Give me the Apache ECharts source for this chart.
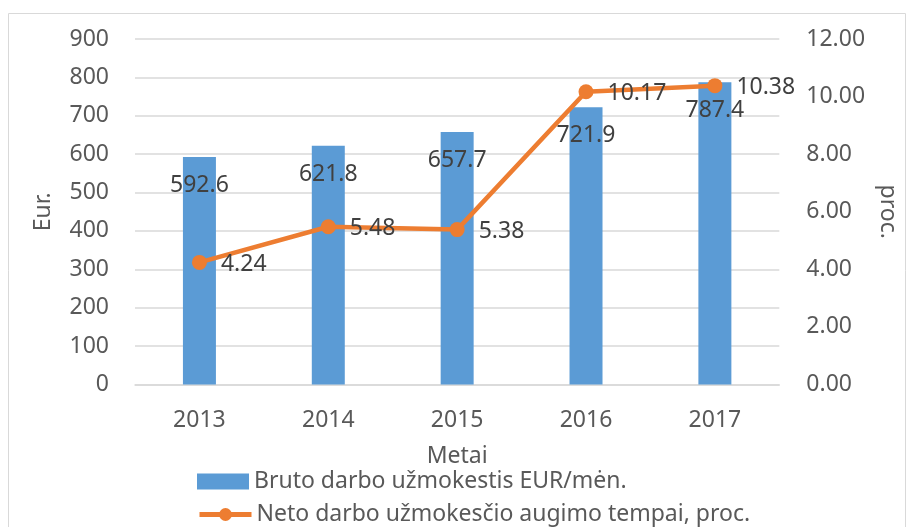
<!DOCTYPE html>
<html><head><meta charset="utf-8">
<script src="https://cdn.jsdelivr.net/npm/echarts@6/dist/echarts.min.js"></script>
<style>html,body{margin:0;padding:0;background:#fff}#c{width:907px;height:527px}</style>
</head><body><div id="c"></div>
<script>
const categories = ['2013', '2014', '2015', '2016', '2017'];
const bruto = [592.6, 621.8, 657.7, 721.9, 787.4];
const neto = [4.24, 5.48, 5.38, 10.17, 10.38];
const leftTicks = { min: 0, max: 900, interval: 100 };
const rightTicks = { min: 0, max: 12, interval: 2 };
const names = ['Bruto darbo užmokestis EUR/mėn.', 'Neto darbo užmokesčio augimo tempai, proc.'];

const FONT = 'Noto Sans';
const AX = '#595959';
const DL = '#404040';
const FS = 23;
const legendBase = {
  orient: 'horizontal', left: 197, padding: 0, itemWidth: 52, itemHeight: 16, itemGap: 5,
  textStyle: { fontFamily: FONT, fontSize: 23, color: AX }
};
const chart = echarts.init(document.getElementById('c'));
chart.setOption({
  animation: false,
  textStyle: { fontFamily: FONT },
  graphic: [{ type: 'rect', shape: { x: 8.5, y: 13.5, width: 897, height: 530 }, style: { fill: 'none', stroke: '#d9d9d9', lineWidth: 1 } }],
  grid: { left: 135, right: 127, top: 39, bottom: 142.5 },
  legend: [
    Object.assign({}, legendBase, { top: 470, data: [{ name: names[0], icon: 'rect' }] }),
    Object.assign({}, legendBase, { top: 503, lineStyle: { width: 5 }, data: [{ name: names[1] }] })
  ],
  xAxis: {
    type: 'category', data: categories, name: 'Metai', nameLocation: 'middle', nameGap: 60,
    nameTextStyle: { fontSize: FS, color: AX },
    axisLine: { lineStyle: { color: '#d9d9d9', width: 1.5 } }, axisTick: { show: false },
    axisLabel: { fontSize: FS, color: AX, margin: 24 }
  },
  yAxis: [{
    type: 'value', ...leftTicks, name: 'Eur.', nameLocation: 'middle', nameGap: 80, nameRotate: 90,
    nameTextStyle: { fontSize: FS, color: AX },
    axisLabel: { fontSize: FS, color: AX, margin: 26 },
    splitLine: { lineStyle: { color: '#d9d9d9', width: 1.5 } }
  }, {
    type: 'value', ...rightTicks, name: 'proc.', nameLocation: 'middle', nameGap: 94, nameRotate: -90,
    nameTextStyle: { fontSize: FS, color: AX },
    axisLabel: { fontSize: FS, color: AX, margin: 27, formatter: v => v.toFixed(2) },
    splitLine: { show: false }
  }],
  series: [{
    name: names[0], type: 'bar', data: bruto, barWidth: '25.6%', yAxisIndex: 0,
    itemStyle: { color: '#5B9BD5' },
    label: { show: true, position: 'insideTop', distance: 17, fontSize: FS, color: DL }
  }, {
    name: names[1], type: 'line', data: neto, yAxisIndex: 1,
    lineStyle: { color: '#ED7D31', width: 4.5 }, itemStyle: { color: '#ED7D31' },
    symbol: 'circle', symbolSize: 15,
    label: { show: true, position: 'right', distance: 14, offset: [0, 2], fontSize: FS, color: DL, formatter: p => p.value.toFixed(2) }
  }]
});
</script></body></html>
